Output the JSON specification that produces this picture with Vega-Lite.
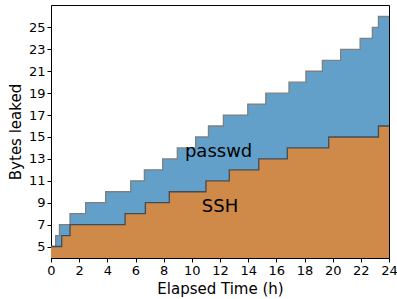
{
  "$schema": "https://vega.github.io/schema/vega-lite/v6.json",
  "width": 338,
  "height": 253,
  "autosize": {"type": "none"},
  "padding": {"left": 51, "top": 5, "right": 8, "bottom": 41},
  "background": "white",
  "config": {
    "view": {"stroke": "black", "strokeWidth": 1},
    "axis": {
      "labelFont": "DejaVu Sans",
      "titleFont": "DejaVu Sans",
      "labelFontSize": 13,
      "titleFontSize": 15,
      "titleFontWeight": "normal",
      "labelColor": "black",
      "titleColor": "black",
      "tickColor": "black",
      "domainColor": "black",
      "tickSize": 4,
      "labelPadding": 2,
      "labelOverlap": false,
      "labelFlush": false,
      "grid": false
    }
  },
  "datasets": {
    "steps": [
      {"t": 0, "ssh": 5, "total": 5},
      {"t": 0.33, "ssh": 5, "total": 6},
      {"t": 0.6, "ssh": 5, "total": 7},
      {"t": 0.76, "ssh": 6, "total": 7},
      {"t": 1.35, "ssh": 7, "total": 8},
      {"t": 2.46, "ssh": 7, "total": 9},
      {"t": 3.88, "ssh": 7, "total": 10},
      {"t": 5.26, "ssh": 8, "total": 10},
      {"t": 5.66, "ssh": 8, "total": 11},
      {"t": 6.63, "ssh": 8, "total": 12},
      {"t": 6.7, "ssh": 9, "total": 12},
      {"t": 7.93, "ssh": 9, "total": 13},
      {"t": 8.4, "ssh": 10, "total": 13},
      {"t": 8.97, "ssh": 10, "total": 14},
      {"t": 10.27, "ssh": 10, "total": 15},
      {"t": 11.0, "ssh": 11, "total": 15},
      {"t": 11.18, "ssh": 11, "total": 16},
      {"t": 12.24, "ssh": 11, "total": 17},
      {"t": 12.66, "ssh": 12, "total": 17},
      {"t": 13.97, "ssh": 12, "total": 18},
      {"t": 14.75, "ssh": 13, "total": 18},
      {"t": 15.25, "ssh": 13, "total": 19},
      {"t": 16.78, "ssh": 14, "total": 19},
      {"t": 16.9, "ssh": 14, "total": 20},
      {"t": 18.1, "ssh": 14, "total": 21},
      {"t": 19.27, "ssh": 14, "total": 22},
      {"t": 19.72, "ssh": 15, "total": 22},
      {"t": 20.57, "ssh": 15, "total": 23},
      {"t": 21.95, "ssh": 15, "total": 24},
      {"t": 22.82, "ssh": 15, "total": 25},
      {"t": 23.25, "ssh": 16, "total": 26},
      {"t": 24, "ssh": 16, "total": 26}
    ],
    "labels": [
      {"label": "passwd", "t": 11.9, "v": 13.6},
      {"label": "SSH", "t": 12.0, "v": 8.6}
    ]
  },
  "encoding": {
    "x": {
      "field": "t",
      "type": "quantitative",
      "scale": {"domain": [0, 24], "nice": false, "zero": false},
      "axis": {"values": [0, 2, 4, 6, 8, 10, 12, 14, 16, 18, 20, 22, 24], "title": "Elapsed Time (h)", "titlePadding": 4, "labelOverlap": false}
    },
    "y": {
      "field": "total",
      "type": "quantitative",
      "scale": {"domain": [3.95, 27.05], "nice": false, "zero": false},
      "axis": {"values": [5, 7, 9, 11, 13, 15, 17, 19, 21, 23, 25], "title": "Bytes leaked", "titlePadding": 5, "labelOverlap": false}
    }
  },
  "layer": [
    {
      "data": {"name": "steps"},
      "mark": {"type": "area", "interpolate": "step-after", "color": "#62a0ca"},
      "encoding": {
        "y2": {"field": "ssh"}
      }
    },
    {
      "data": {"name": "steps"},
      "mark": {"type": "area", "interpolate": "step-after", "color": "#cf8948"},
      "encoding": {
        "y": {"field": "ssh", "type": "quantitative"},
        "y2": {"datum": 3.95}
      }
    },
    {
      "data": {"name": "steps"},
      "mark": {"type": "line", "interpolate": "step-after", "color": "#7f7f7f", "strokeWidth": 1.3},
      "encoding": {}
    },
    {
      "data": {"name": "steps"},
      "mark": {"type": "line", "interpolate": "step-after", "color": "#3e4d58", "strokeWidth": 1.3},
      "encoding": {"y": {"field": "ssh", "type": "quantitative"}}
    },
    {
      "data": {"name": "labels"},
      "mark": {"type": "text", "font": "DejaVu Sans", "fontSize": 18, "color": "black", "align": "center", "baseline": "middle"},
      "encoding": {
        "y": {"field": "v", "type": "quantitative"},
        "text": {"field": "label"}
      }
    }
  ]
}
